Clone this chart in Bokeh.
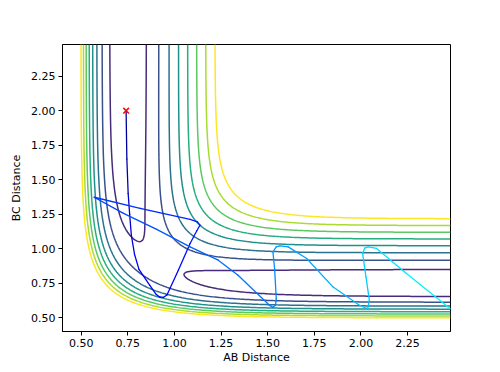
import numpy as np
from bokeh.plotting import figure
from bokeh.models import ColumnDataSource, FixedTicker, PrintfTickFormatter, Range1d
from bokeh.palettes import Viridis256
from bokeh.embed import file_html
from bokeh.resources import INLINE

# LEPS surface parameters (H + H2, eV / Angstrom)
D_E = 4.746
BETA = 1.942
R_E = 0.742
K_SATO = 0.186

# contour levels (eV); the first lies below the surface minimum
contour_levels = [-4.797, -4.575, -4.353, -4.131, -3.909, -3.687, -3.465, -3.243, -3.021]

# grid of the surface (Angstrom)
ab_grid = np.linspace(0.40, 2.48, 209)
bc_grid = np.linspace(0.40, 2.48, 209)

# trajectory
traj_ab = [0.741, 0.745, 0.752, 0.760, 0.769, 0.786, 0.810, 0.868, 0.903, 0.921,
           0.942, 0.960, 1.021, 1.084, 1.120, 1.137, 1.123, 1.084, 0.816, 0.570,
           0.727, 0.905, 1.084, 1.235, 1.341, 1.511, 1.528, 1.542, 1.546, 1.537,
           1.528, 1.546, 1.566, 1.610, 1.709, 1.851, 1.994, 2.036, 2.045, 2.027,
           2.009, 2.020, 2.039, 2.084, 2.244, 2.467, 2.480]
traj_bc = [2.000, 1.650, 1.400, 1.250, 1.099, 0.960, 0.850, 0.735, 0.668, 0.650,
           0.648, 0.665, 0.844, 1.038, 1.130, 1.171, 1.195, 1.213, 1.293, 1.373,
           1.256, 1.140, 1.013, 0.917, 0.808, 0.589, 0.575, 0.590, 0.638, 0.856,
           0.977, 1.013, 1.020, 1.013, 0.929, 0.722, 0.589, 0.565, 0.626, 0.795,
           0.965, 1.005, 1.013, 1.002, 0.820, 0.577, 0.566]

start_ab = [0.741]
start_bc = [2.000]

x_ticks = [0.50, 0.75, 1.00, 1.25, 1.50, 1.75, 2.00, 2.25]
y_ticks = [0.50, 0.75, 1.00, 1.25, 1.50, 1.75, 2.00, 2.25]


def leps(rab, rbc):
    rac = rab + rbc
    k = K_SATO

    def qj(r):
        e = np.exp(-BETA * (r - R_E))
        q = D_E / 4.0 * ((3 + k) * e * e - (2 + 6 * k) * e)
        j = D_E / 4.0 * ((1 + 3 * k) * e * e - (6 + 2 * k) * e)
        return q, j

    qab, jab = qj(rab)
    qbc, jbc = qj(rbc)
    qac, jac = qj(rac)
    root = np.sqrt(0.5 * ((jab - jbc) ** 2 + (jbc - jac) ** 2 + (jac - jab) ** 2))
    return (qab + qbc + qac - root) / (1 + k)


AB, BC = np.meshgrid(ab_grid, bc_grid)
V = leps(AB, BC)

n = len(contour_levels)
level_colors = [Viridis256[round(i * 255 / (n - 1))] for i in range(n)]

p = figure(frame_width=388, frame_height=287,
           x_range=Range1d(0.40, 2.48), y_range=Range1d(0.40, 2.48),
           output_backend="svg", toolbar_location=None,
           min_border_left=62, min_border_top=44, min_border_right=50,
           min_border_bottom=41, background_fill_color="white")

p.contour(ab_grid, bc_grid, V, contour_levels, line_color=level_colors,
          line_width=1.5)

# trajectory, coloured along its length (dark blue -> cyan)
ax = np.array(traj_ab)
ay = np.array(traj_bc)
seg = np.hypot(np.diff(ax), np.diff(ay))
cum = np.concatenate([[0.0], np.cumsum(seg)])
frac = (cum[:-1] + cum[1:]) / 2.0 / cum[-1]
cols = []
for f in frac:
    g = min(1.0, max(0.0, (f - 0.25) / 0.75))
    b = min(1.0, 0.55 + 2.25 * f)
    cols.append("#%02x%02x%02x" % (0, int(round(255 * g)), int(round(255 * b))))

src = ColumnDataSource(dict(x0=ax[:-1], y0=ay[:-1], x1=ax[1:], y1=ay[1:], c=cols))
p.segment("x0", "y0", "x1", "y1", source=src, line_color="c", line_width=1.3,
          line_cap="round")

p.scatter(start_ab, start_bc, marker="x", size=8, line_color="red", line_width=1.5)

p.xgrid.visible = False
p.ygrid.visible = False
p.outline_line_color = "black"
p.outline_line_width = 1

for axis, ticks in ((p.xaxis[0], x_ticks), (p.yaxis[0], y_ticks)):
    axis.ticker = FixedTicker(ticks=ticks)
    axis.formatter = PrintfTickFormatter(format="%.2f")
    axis.minor_tick_line_color = None
    axis.major_tick_out = 4
    axis.major_tick_in = 0
    axis.major_label_text_font = "DejaVu Sans"
    axis.major_label_text_font_size = "11px"
    axis.major_label_text_color = "black"
    axis.axis_label_text_font = "DejaVu Sans"
    axis.axis_label_text_font_size = "11px"
    axis.axis_label_text_font_style = "normal"
    axis.axis_label_text_color = "black"
    axis.axis_line_color = "black"
    axis.major_tick_line_color = "black"
    axis.major_label_standoff = 3

p.xaxis.axis_label = "AB Distance"
p.yaxis.axis_label = "BC Distance"
p.xaxis.axis_label_standoff = 1
p.yaxis.axis_label_standoff = 5

open("out.html", "w").write(file_html(p, INLINE))
